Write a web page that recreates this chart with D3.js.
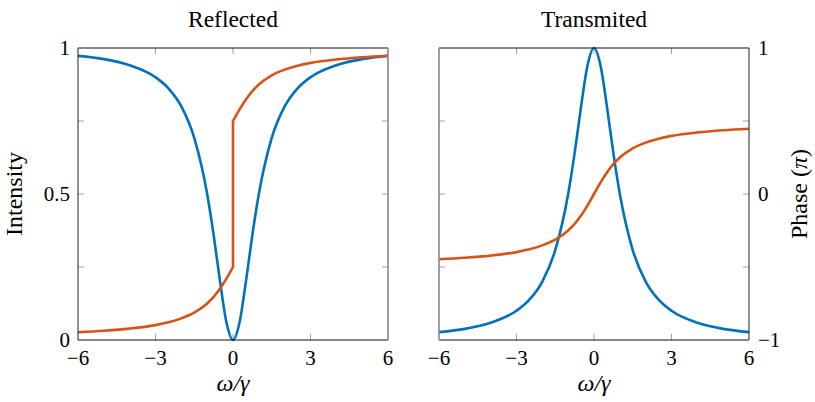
<!DOCTYPE html>
<html>
<head>
<meta charset="utf-8">
<script src="https://cdn.jsdelivr.net/npm/d3@7"></script>
<style>
  body { margin: 0; background: #fff; }
</style>
</head>
<body>
<script>
const width = 815;
const height = 402;

// detuning values (omega / gamma)
const omega = [-6, -5, -4, -3, -2.5, -2, -1.5, -1, -0.75, -0.5, -0.25, 0,
  0.25, 0.5, 0.75, 1, 1.5, 2, 2.5, 3, 4, 5, 6];
// reflected intensity
const reflI = [0.973, 0.962, 0.941, 0.900, 0.862, 0.800, 0.692, 0.500, 0.360, 0.200, 0.059, 0,
  0.059, 0.200, 0.360, 0.500, 0.692, 0.800, 0.862, 0.900, 0.941, 0.962, 0.973];
// transmitted intensity
const tranI = [0.027, 0.038, 0.059, 0.100, 0.138, 0.200, 0.308, 0.500, 0.640, 0.800, 0.941, 1,
  0.941, 0.800, 0.640, 0.500, 0.308, 0.200, 0.138, 0.100, 0.059, 0.038, 0.027];
// reflected phase (units of pi), jumps at zero
const omegaPh = [-6, -5, -4, -3, -2.5, -2, -1.5, -1, -0.75, -0.5, -0.25, 0,
  0, 0.25, 0.5, 0.75, 1, 1.5, 2, 2.5, 3, 4, 5, 6];
const reflPh = [-0.947, -0.937, -0.922, -0.898, -0.879, -0.852, -0.813, -0.750, -0.705, -0.648, -0.578, -0.5,
  0.5, 0.578, 0.648, 0.705, 0.750, 0.813, 0.852, 0.879, 0.898, 0.922, 0.937, 0.947];
// transmitted phase (units of pi)
const tranPh = [-0.447, -0.437, -0.422, -0.398, -0.379, -0.352, -0.313, -0.250, -0.205, -0.148, -0.078, 0,
  0.078, 0.148, 0.205, 0.250, 0.313, 0.352, 0.379, 0.398, 0.422, 0.437, 0.447];

const xTicks = [-6, -3, 0, 3, 6];
const intTicks = [0, 0.5, 1];
const phTicks = [-1, 0, 1];

const blue = "#0072bd";
const orange = "#d95319";
const serif = "'Liberation Serif', 'Times New Roman', 'DejaVu Serif', serif";

const yTop = 48, yBottom = 340;

const svg = d3.select("body").append("svg")
  .attr("width", width)
  .attr("height", height)
  .attr("font-family", serif);

const y = d3.scaleLinear().domain([0, 1]).range([yBottom, yTop]);
const yPh = d3.scaleLinear().domain([-1, 1]).range([yBottom, yTop]);

function fmt(v) {
  return String(v).replace("-", "\u2212");
}

function panel(x0, x1, title, intens, phX, phase, leftLabels, rightLabels) {
  const x = d3.scaleLinear().domain([-6, 6]).range([x0, x1]);
  const g = svg.append("g");

  // inner ticks on every side
  const minor = [-3, 0, 3];
  const yMinor = [0.25, 0.5, 0.75];
  minor.forEach(t => {
    g.append("line").attr("x1", x(t)).attr("x2", x(t)).attr("y1", yBottom).attr("y2", yBottom - 6)
      .attr("stroke", "#a0a0a0");
    g.append("line").attr("x1", x(t)).attr("x2", x(t)).attr("y1", yTop).attr("y2", yTop + 6)
      .attr("stroke", "#a0a0a0");
  });
  yMinor.forEach(t => {
    g.append("line").attr("x1", x0).attr("x2", x0 + 6).attr("y1", y(t)).attr("y2", y(t))
      .attr("stroke", "#a0a0a0");
    g.append("line").attr("x1", x1).attr("x2", x1 - 6).attr("y1", y(t)).attr("y2", y(t))
      .attr("stroke", "#a0a0a0");
  });

  const line = d3.line().x(d => x(d[0])).y(d => d[1]).curve(d3.curveMonotoneX);

  g.append("path")
    .datum(omega.map((w, i) => [w, y(intens[i])]))
    .attr("d", line)
    .attr("fill", "none").attr("stroke", blue).attr("stroke-width", 2.6);

  // phase curve may contain a vertical jump: draw the two branches and join them
  const ptsPh = phX.map((w, i) => [w, yPh(phase[i])]);
  const jump = phX.findIndex((w, i) => i > 0 && w === phX[i - 1]);
  if (jump > 0) {
    const p = line(ptsPh.slice(0, jump)) + "L" + line(ptsPh.slice(jump)).slice(1);
    g.append("path").attr("d", p)
      .attr("fill", "none").attr("stroke", orange).attr("stroke-width", 2.6);
  } else {
    g.append("path").datum(ptsPh).attr("d", line)
      .attr("fill", "none").attr("stroke", orange).attr("stroke-width", 2.6);
  }

  // frame
  g.append("line").attr("x1", x0).attr("x2", x1).attr("y1", yTop).attr("y2", yTop).attr("stroke", "#111");
  g.append("line").attr("x1", x0).attr("x2", x1).attr("y1", yBottom).attr("y2", yBottom).attr("stroke", "#111");
  g.append("line").attr("x1", x0).attr("x2", x0).attr("y1", yTop).attr("y2", yBottom)
    .attr("stroke", leftLabels ? "#222" : "#888").attr("stroke-width", leftLabels ? 1 : 1.6);
  g.append("line").attr("x1", x1).attr("x2", x1).attr("y1", yTop).attr("y2", yBottom)
    .attr("stroke", rightLabels ? "#222" : "#888").attr("stroke-width", rightLabels ? 1 : 1.6);

  // x tick labels
  g.selectAll(".xt").data(xTicks).enter().append("text")
    .attr("x", d => x(d)).attr("y", 365)
    .attr("text-anchor", "middle").attr("font-size", 21).attr("fill", "#000")
    .text(d => fmt(d));

  g.append("text")
    .attr("x", (x0 + x1) / 2).attr("y", 391)
    .attr("text-anchor", "middle").attr("font-size", 24).attr("font-style", "italic").attr("fill", "#000")
    .text("ω/γ");

  g.append("text")
    .attr("x", (x0 + x1) / 2).attr("y", 27)
    .attr("text-anchor", "middle").attr("font-size", 23.5).attr("fill", "#000")
    .text(title);

  if (leftLabels) {
    g.selectAll(".yt").data(intTicks).enter().append("text")
      .attr("x", x0 - 8).attr("y", d => y(d) + 7)
      .attr("text-anchor", "end").attr("font-size", 21).attr("fill", "#000")
      .text(d => d);
    g.append("text")
      .attr("transform", `translate(22,${(yTop + yBottom) / 2}) rotate(-90)`)
      .attr("text-anchor", "middle").attr("font-size", 24).attr("fill", "#000")
      .text("Intensity");
  }
  if (rightLabels) {
    g.selectAll(".pt").data(phTicks).enter().append("text")
      .attr("x", x1 + 9).attr("y", d => yPh(d) + 7)
      .attr("font-size", 21).attr("fill", "#000")
      .text(d => fmt(d));
    const lab = g.append("text")
      .attr("transform", `translate(807,${(yTop + yBottom) / 2}) rotate(-90)`)
      .attr("text-anchor", "middle").attr("font-size", 24).attr("fill", "#000");
    lab.append("tspan").text("Phase (");
    lab.append("tspan").attr("font-style", "italic").text("π");
    lab.append("tspan").text(")");
  }
}

panel(78, 388, "Reflected", reflI, omegaPh, reflPh, true, false);
panel(439, 749, "Transmited", tranI, omega, tranPh, false, true);
</script>
</body>
</html>
